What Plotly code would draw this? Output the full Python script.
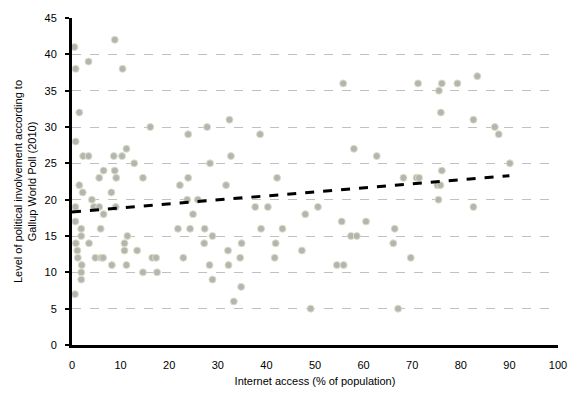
import plotly.graph_objects as go

internet_access = [0.5, 8.8, 0.75, 3.4, 10.4, 1.5, 0.75, 16.1, 23.9, 2.3, 3.4, 8.6, 10.3, 11.2, 12.8, 6.5, 8.8, 5.6, 9.1, 14.6, 23.9,
                   1.5, 2.2, 4.1, 4.5, 5.6, 6.5, 8.1, 9.0, 0.7, 0.7, 1.9, 1.9, 0.8, 1.1, 1.2, 2.0, 1.9, 1.9, 0.6, 3.5, 5.9, 4.8, 6.0, 6.4, 8.2,
                   11.4, 10.8, 10.8, 11.2, 13.4, 14.6, 16.5, 17.3, 17.5, 21.8, 22.2, 22.9,
                   55.8, 32.4, 27.8, 38.7, 58.0, 62.7, 28.4, 32.7, 42.2,
                   31.7, 23.7, 25.9, 24.9, 24.3, 27.3, 28.9, 27.2, 28.3, 28.9, 32.1, 32.2, 34.9, 34.6, 34.8, 33.3, 37.7, 40.3, 38.9, 43.3,
                   41.9, 41.7, 48.0, 50.6, 47.3, 49.1, 54.5, 55.9, 55.5, 57.4, 58.6, 60.5,
                   71.2, 76.1, 75.5, 79.3, 83.4, 75.9, 82.6, 87.0, 87.8, 90.1, 76.1, 68.2, 70.9, 71.4, 75.2, 75.8, 75.4, 82.6, 66.4, 66.1,
                   69.7, 67.1]
involvement = [41, 42, 38, 39, 38, 32, 28, 30, 29, 26, 26, 26, 26, 27, 25, 24, 24, 23, 23, 23, 23,
               22, 21, 20, 19, 19, 18, 21, 19, 19, 17, 16, 15, 14, 13, 12, 11, 10, 9, 7, 14, 16, 12, 12, 12, 11,
               15, 14, 13, 11, 13, 10, 12, 12, 10, 16, 22, 12,
               36, 31, 30, 29, 27, 26, 25, 26, 23,
               22, 20, 20, 18, 16, 16, 15, 14, 11, 9, 13, 11, 14, 12, 8, 6, 19, 19, 16, 16,
               14, 12, 18, 19, 13, 5, 11, 11, 17, 15, 15, 17,
               36, 36, 35, 36, 37, 32, 31, 30, 29, 25, 24, 23, 23, 23, 22, 22, 20, 19, 16, 14,
               12, 5]

trend_x = [0, 90]
trend_y = [18.3, 23.3]

x_ticks = list(range(0, 101, 10))
y_ticks = list(range(0, 46, 5))

fig = go.Figure()
fig.add_trace(go.Scatter(
    x=internet_access, y=involvement, mode="markers",
    marker=dict(size=7, color="#b4b4b4", line=dict(color="#d8e3bf", width=1)),
    showlegend=False, cliponaxis=False,
))
fig.add_trace(go.Scatter(
    x=trend_x, y=trend_y, mode="lines",
    line=dict(color="black", width=3, dash="dash"),
    showlegend=False,
))

font = "Liberation Sans, Arial, sans-serif"
fig.update_layout(
    width=579, height=410,
    margin=dict(l=72, r=15, t=18, b=65),
    paper_bgcolor="white", plot_bgcolor="white",
    font=dict(family=font, size=11, color="black"),
    xaxis=dict(
        range=[0, 100], tickvals=x_ticks, showgrid=False, zeroline=False,
        showline=True, linecolor="black", linewidth=3,
        ticks="", tickfont=dict(size=11), ticklabelstandoff=8,
        title=dict(text="Internet access (% of population)", font=dict(size=11), standoff=8),
    ),
    yaxis=dict(
        range=[0, 45], tickvals=y_ticks, showgrid=True, gridcolor="#c0c0c0",
        griddash="dash", gridwidth=1, zeroline=False,
        showline=True, linecolor="black", linewidth=3,
        ticks="outside", ticklen=4, tickcolor="black", tickwidth=2,
        tickfont=dict(size=11), ticklabelstandoff=6,
        title=dict(text="Level of political involvement according to<br>Gallup World Poll (2010)",
                   font=dict(size=11), standoff=6),
    ),
)

fig.write_html("out.html")
